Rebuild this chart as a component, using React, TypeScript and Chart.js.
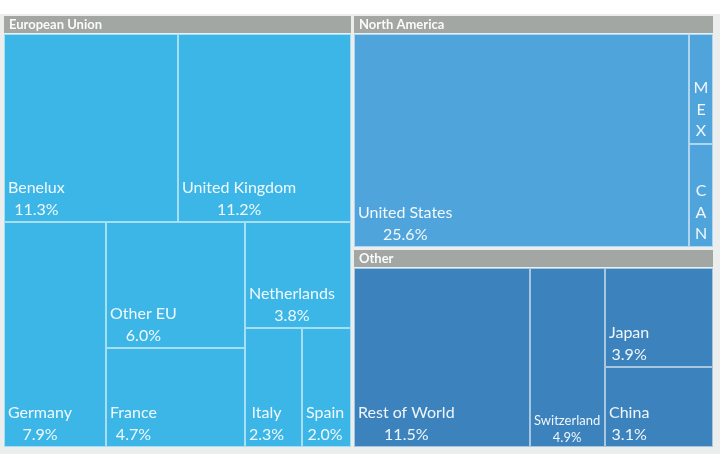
import React, { useEffect, useRef } from 'react';
import { Chart, registerables } from 'chart.js';

Chart.register(...registerables);

// Region headers (parents of the treemap)
const regions = ['European Union', 'North America', 'Other'];

// Leaf cells: label, region index and share of the total (%)
const markets = [
  'Benelux', 'United Kingdom', 'Germany', 'Other EU', 'France', 'Netherlands', 'Italy', 'Spain',
  'United States', 'MEX', 'CAN',
  'Rest of World', 'Switzerland', 'Japan', 'China',
];
const marketRegion = [0, 0, 0, 0, 0, 0, 0, 0, 1, 1, 1, 2, 2, 2, 2];
const marketShare = [11.3, 11.2, 7.9, 6.0, 4.7, 3.8, 2.3, 2.0, 25.6, 0.93, 0.87, 11.5, 4.9, 3.9, 3.1];
// Cells too small to carry a value label
const hideValue = ['MEX', 'CAN'];

// Styling
const regionColors = ['#3bb6e6', '#50a4dc', '#3c83bd'];
const headerColor = '#a2a7a4';
const frameColor = '#eceeee';
const FONT = 'Lato, "Open Sans", sans-serif';
const BASE = 16;
const GAP = 1.5;
const HEADER = 17;

type Box = { x: number; y: number; w: number; h: number };

// Squarified layout in data units; kx/ky convert units to pixels so the
// shape test works on the real on-screen aspect.
function squarify(values: number[], box: Box, kx: number, ky: number): Box[] {
  const out: Box[] = new Array(values.length);
  let rest = { ...box };
  let remaining = values.reduce((a, b) => a + b, 0);
  const skew = (w: number, h: number) => Math.abs(w / h - 1);
  let i = 0;
  while (i < values.length) {
    const pw = rest.w * kx;
    const ph = rest.h * ky;
    const column = pw >= ph;
    const worst = (sum: number, from: number, to: number) => {
      const frac = sum / remaining;
      let m = 0;
      for (let k = from; k < to; k++) {
        const v = values[k];
        const w = column ? pw * frac : (pw * v) / sum;
        const h = column ? (ph * v) / sum : ph * frac;
        m = Math.max(m, skew(w, h));
      }
      return m;
    };
    let j = i + 1;
    let sum = values[i];
    let best = worst(sum, i, j);
    while (j < values.length) {
      const s2 = sum + values[j];
      const w2 = worst(s2, i, j + 1);
      if (w2 > best) break;
      best = w2;
      sum = s2;
      j++;
    }
    const frac = sum / remaining;
    if (column) {
      const stripW = rest.w * frac;
      let y = rest.y;
      for (let k = i; k < j; k++) {
        const h = (rest.h * values[k]) / sum;
        out[k] = { x: rest.x, y, w: stripW, h };
        y += h;
      }
      rest = { x: rest.x + stripW, y: rest.y, w: rest.w - stripW, h: rest.h };
    } else {
      const stripH = rest.h * frac;
      let x = rest.x;
      for (let k = i; k < j; k++) {
        const w = (rest.w * values[k]) / sum;
        out[k] = { x, y: rest.y, w, h: stripH };
        x += w;
      }
      rest = { x: rest.x, y: rest.y + stripH, w: rest.w, h: rest.h - stripH };
    }
    remaining -= sum;
    i = j;
  }
  return out;
}

const treemapPlugin = {
  id: 'treemapCells',
  beforeDraw(chart: any) {
    const { ctx, width, height } = chart;
    ctx.save();
    ctx.fillStyle = '#ffffff';
    ctx.fillRect(0, 0, width, height);
    ctx.fillStyle = frameColor;
    ctx.fillRect(0, 14, width, height - 14);
    ctx.restore();
  },
  afterDatasetsDraw(chart: any) {
    const { ctx } = chart;
    const xs = chart.scales.x;
    const ys = chart.scales.y;
    const kx = Math.abs(xs.getPixelForValue(100) - xs.getPixelForValue(0)) / 100;
    const ky = Math.abs(ys.getPixelForValue(100) - ys.getPixelForValue(0)) / 100;
    const px = (b: Box) => {
      const x0 = xs.getPixelForValue(b.x);
      const x1 = xs.getPixelForValue(b.x + b.w);
      const y0 = ys.getPixelForValue(b.y);
      const y1 = ys.getPixelForValue(b.y + b.h);
      const l = Math.round(Math.min(x0, x1));
      const t = Math.round(Math.min(y0, y1));
      const r = Math.round(Math.max(x0, x1));
      const btm = Math.round(Math.max(y0, y1));
      return { l, t, r, b: btm, w: r - l, h: btm - t };
    };

    const totals = regions.map((_, g) =>
      marketShare.reduce((s, v, k) => (marketRegion[k] === g ? s + v : s), 0)
    );
    const regionBoxes = squarify(totals, { x: 0, y: 0, w: 100, h: 100 }, kx, ky);

    ctx.save();
    regions.forEach((name, g) => {
      const rb = regionBoxes[g];
      const gx = GAP / kx;
      const gy = GAP / ky;
      const outer: Box = { x: rb.x + gx, y: rb.y + gy, w: rb.w - 2 * gx, h: rb.h - 2 * gy };
      const head: Box = { x: outer.x, y: outer.y, w: outer.w, h: HEADER / ky };
      const body: Box = {
        x: outer.x,
        y: outer.y + (HEADER + 1) / ky,
        w: outer.w,
        h: outer.h - (HEADER + 1) / ky,
      };

      // header band
      const hp = px(head);
      ctx.fillStyle = headerColor;
      ctx.fillRect(hp.l, hp.t, hp.w, hp.h);
      ctx.fillStyle = 'rgba(255,255,255,0.95)';
      ctx.font = `bold 13px ${FONT}`;
      ctx.textAlign = 'left';
      ctx.textBaseline = 'middle';
      ctx.fillText(name, hp.l + 5, hp.t + hp.h / 2 + 0.5);

      const bp = px(body);
      ctx.fillStyle = 'rgba(225,242,250,0.9)';
      ctx.fillRect(bp.l, bp.t - 1, bp.w, bp.h + 1);

      const idx = markets.map((_, k) => k).filter((k) => marketRegion[k] === g);
      const cells = squarify(idx.map((k) => marketShare[k]), body, kx, ky);

      idx.forEach((k, n) => {
        const c = px(cells[n]);
        ctx.fillStyle = regionColors[g];
        ctx.fillRect(c.l, c.t, c.w, c.h);
        ctx.strokeStyle = 'rgba(255,255,255,0.55)';
        ctx.lineWidth = 1;
        ctx.strokeRect(c.l + 0.5, c.t + 0.5, c.w - 1, c.h - 1);

        // labels, anchored to the lower-left corner of the cell
        ctx.fillStyle = 'rgba(255,255,255,0.92)';
        ctx.textBaseline = 'middle';
        ctx.textAlign = 'center';
        const label = markets[k];
        if (hideValue.includes(label)) {
          // narrow cell: one letter per line
          ctx.font = `${BASE}px ${FONT}`;
          const chars = label.split('');
          const lineH = 21.5;
          const cx = c.l + c.w / 2;
          chars.forEach((ch, m) => {
            const cy = c.b - 13 - (chars.length - 1 - m) * lineH;
            ctx.fillText(ch, cx, cy);
          });
          return;
        }
        const value = marketShare[k].toFixed(1) + '%';
        let size = BASE;
        ctx.font = `${size}px ${FONT}`;
        let bw = Math.max(ctx.measureText(label).width, ctx.measureText(value).width);
        const avail = c.w - 8;
        if (bw > avail) {
          size = Math.max(8, Math.floor((size * avail) / bw));
          ctx.font = `${size}px ${FONT}`;
          bw = Math.max(ctx.measureText(label).width, ctx.measureText(value).width);
        }
        const small = size < BASE;
        const lineH = small ? 17 : 22;
        const valueY = c.b - (small ? 9 : 12);
        const cx = c.l + 4 + bw / 2;
        ctx.fillText(label, cx, valueY - lineH);
        ctx.fillText(value, cx, valueY);
      });
    });
    ctx.restore();
  },
};

export default function App() {
  const ref = useRef<HTMLCanvasElement | null>(null);

  useEffect(() => {
    if (!ref.current) return;
    const chart = new Chart(ref.current, {
      type: 'scatter',
      data: { datasets: [{ data: [] }] },
      options: {
        animation: false,
        responsive: false,
        devicePixelRatio: 1,
        layout: { padding: { left: 2, right: 6, top: 14, bottom: 6 } },
        scales: {
          x: { type: 'linear', min: 0, max: 100, display: false },
          y: { type: 'linear', min: 0, max: 100, reverse: true, display: false },
        },
        plugins: {
          legend: { display: false },
          tooltip: { enabled: false },
          title: { display: false },
        },
      },
      plugins: [treemapPlugin],
    } as any);
    return () => chart.destroy();
  }, []);

  return (
    <div style={{ position: 'fixed', left: 0, top: 0, width: 720, height: 454, background: '#fff' }}>
      <canvas ref={ref} width={720} height={454} style={{ display: 'block' }} />
    </div>
  );
}
